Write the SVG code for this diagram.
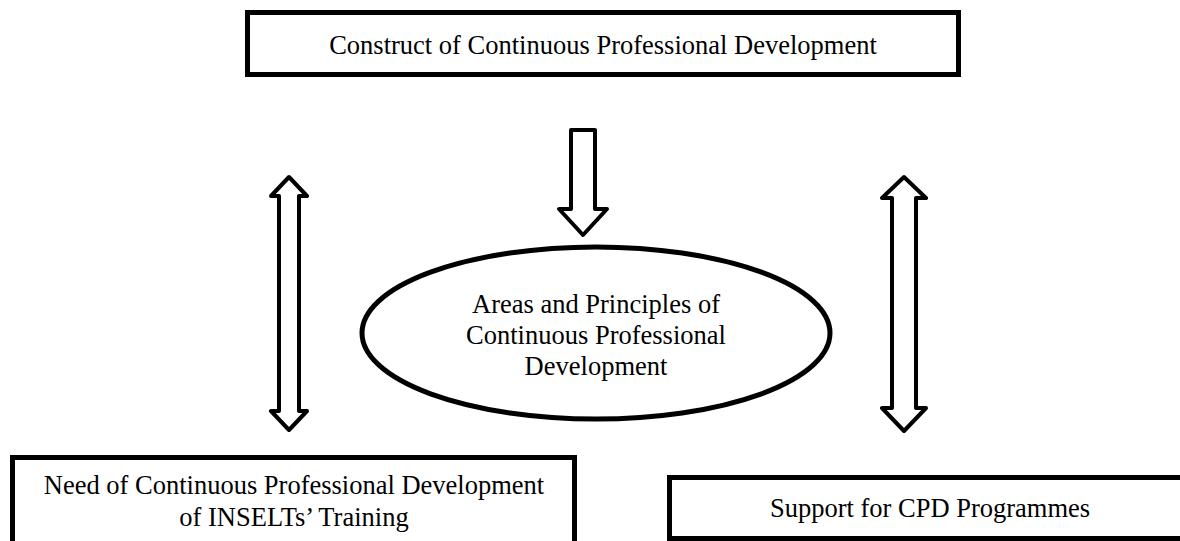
<svg xmlns="http://www.w3.org/2000/svg" width="1180" height="541" viewBox="0 0 1180 541">
<style>
.box{fill:#fff;stroke:#000;stroke-width:5}
.arr{fill:#fff;stroke:#000;stroke-width:4;stroke-linejoin:round}
.t{font-family:"Liberation Serif","Times New Roman",serif;font-size:26.5px;fill:#000;text-anchor:middle}
</style>
<rect width="1180" height="541" fill="#fff"/>
<g id="construct">
<rect class="box" x="247.5" y="12.5" width="711" height="62"/>
<text class="t" x="603" y="54">Construct of Continuous Professional Development</text>
</g>
<g id="areas">
<ellipse cx="596" cy="333" rx="234" ry="86" fill="#fff" stroke="#000" stroke-width="5"/>
<text class="t" x="596" y="313">Areas and Principles of</text>
<text class="t" x="596" y="344">Continuous Professional</text>
<text class="t" x="596" y="375">Development</text>
</g>
<g id="need">
<rect class="box" x="12.5" y="457.5" width="562" height="100"/>
<text class="t" x="294" y="494">Need of Continuous Professional Development</text>
<text class="t" x="294" y="526">of INSELTs’ Training</text>
</g>
<g id="support">
<rect class="box" x="669.5" y="477.5" width="540" height="61"/>
<text class="t" x="930" y="517">Support for CPD Programmes</text>
</g>
<g id="connectors">
<path class="arr" d="M571,130 L595,130 L595,209 L607,209 L583,235 L559,209 L571,209 Z"/>
<path class="arr" d="M289,177 L307,196 L299,196 L299,411 L307,411 L289,430 L271,411 L279,411 L279,196 L271,196 Z"/>
<path class="arr" d="M904,177 L926,198 L916,198 L916,408 L926,408 L904,431 L882,408 L892,408 L892,198 L882,198 Z"/>
</g>
</svg>
